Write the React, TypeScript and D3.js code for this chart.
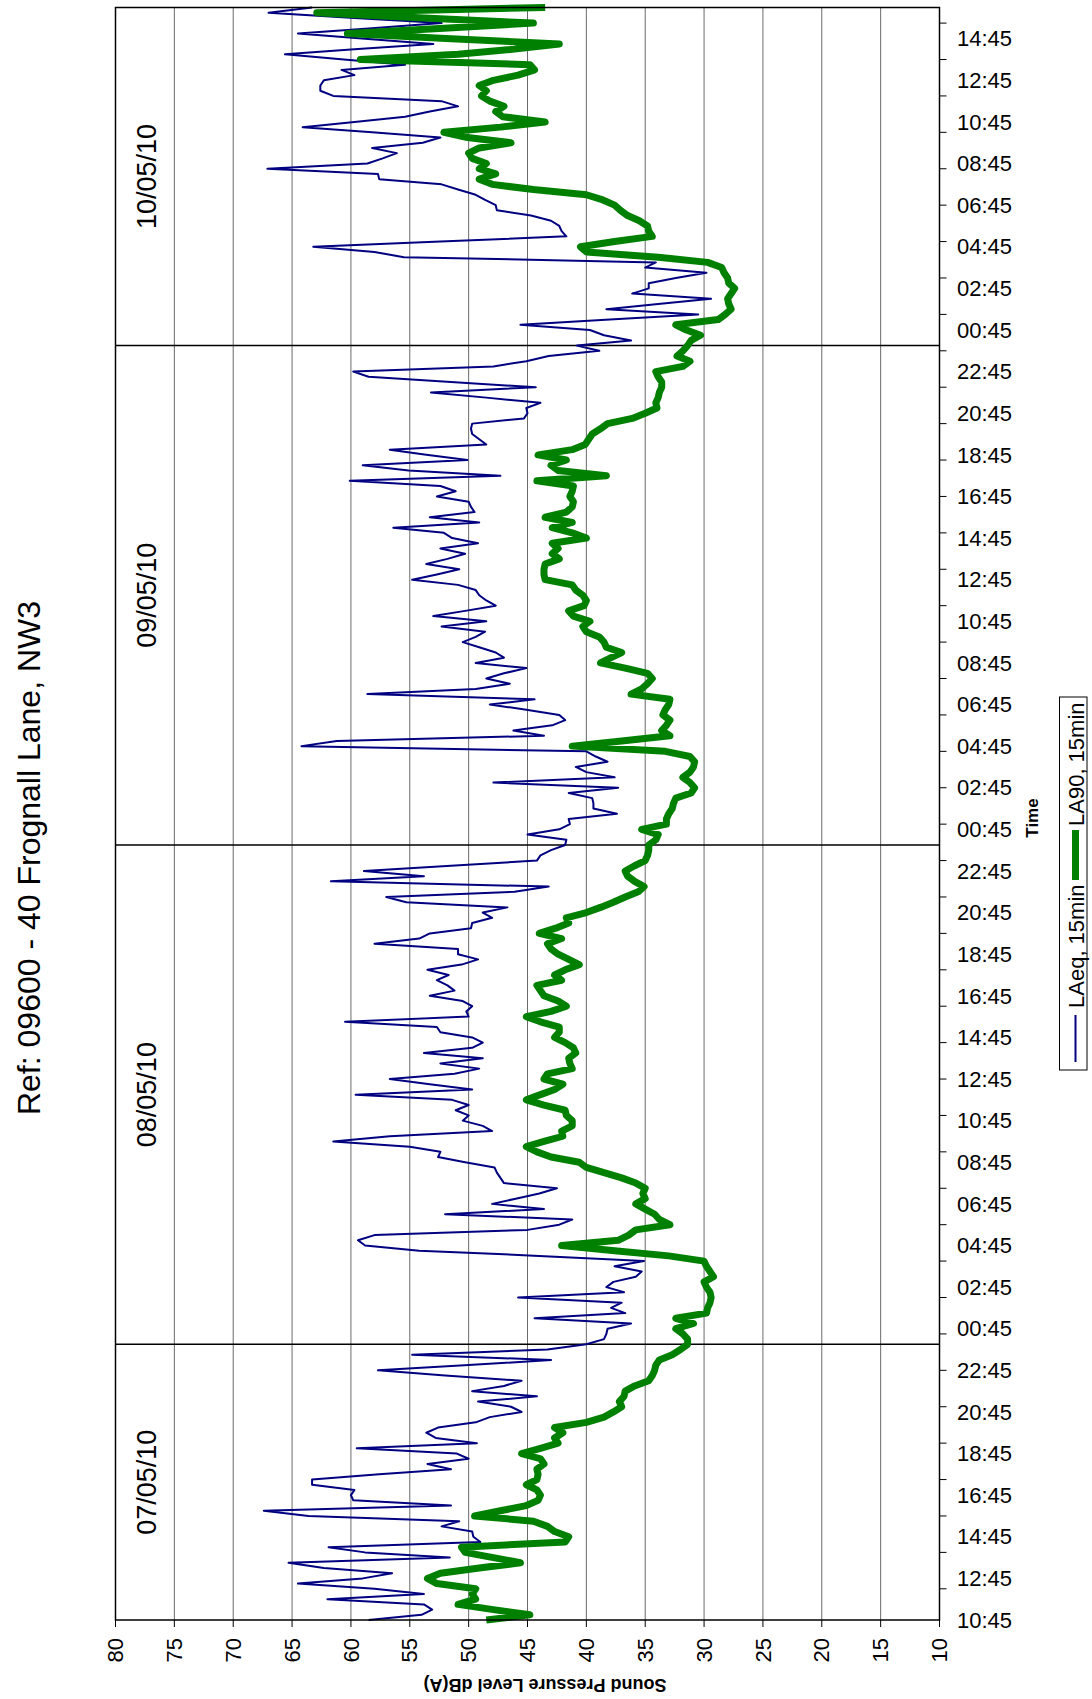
import React from "react";
import * as d3 from "d3";

// 15-minute samples from 07/05/10 10:45 to 10/05/10 16:15
const laeq = [
  58.5, 54.0, 53.1, 53.8, 62.0, 53.8, 58.0, 64.5, 59.0, 56.5, 62.3, 65.3, 51.6, 58.8, 61.9, 49.0,
  49.6, 49.7, 52.3, 50.8, 63.6, 67.4, 51.5, 59.8, 60.0, 59.7, 63.3, 63.3, 57.6, 51.5, 53.5, 50.0,
  51.0, 59.5, 49.3, 52.8, 53.6, 52.6, 49.4, 48.2, 45.5, 46.4, 49.2, 44.2, 49.7, 47.0, 45.5, 52.0,
  57.7, 50.0, 43.0, 54.8, 43.3, 40.0, 38.5, 38.3, 38.2, 36.2, 44.4, 36.7, 37.9, 37.0, 45.8, 36.8,
  38.3, 37.7, 35.8, 35.3, 37.6, 35.1, 44.0, 54.2, 58.8, 59.4, 58.0, 45.0, 42.3, 41.2, 52.0, 43.6,
  48.0, 46.0, 44.0, 42.5, 47.0, 47.3, 47.6, 47.8, 50.3, 52.6, 52.4, 55.0, 61.5, 56.7, 48.0, 48.8,
  50.5, 50.0, 51.1, 50.0, 51.4, 59.6, 49.7, 53.3, 56.7, 51.2, 49.1, 52.4, 48.8, 53.8, 49.7, 48.8,
  49.7, 52.4, 52.7, 60.5, 50.0, 50.2, 49.7, 50.5, 53.3, 51.2, 51.8, 52.7, 51.7, 53.5, 50.6, 49.2,
  50.9, 50.9, 58.0, 54.2, 53.3, 49.8, 49.7, 48.0, 48.8, 46.7, 55.3, 57.0, 46.1, 43.2, 61.7, 53.8,
  58.9, 51.5, 44.2, 43.9, 43.0, 41.8, 41.7, 45.0, 42.3, 41.4, 41.5, 37.4, 39.4, 39.4, 39.5, 41.5,
  37.3, 47.9, 37.6, 40.0, 40.9, 38.2, 39.2, 40.0, 64.2, 61.2, 43.6, 46.2, 42.9, 41.8, 42.3, 45.1,
  48.2, 44.4, 58.6, 49.4, 46.5, 48.5, 47.0, 45.1, 49.4, 47.0, 47.7, 49.1, 50.5, 49.4, 48.6, 52.3,
  48.5, 53.0, 50.3, 47.7, 48.5, 49.1, 49.4, 50.9, 54.8, 52.7, 50.8, 53.6, 51.8, 50.3, 52.4, 49.2,
  51.4, 52.1, 56.4, 49.1, 53.3, 49.5, 49.8, 50.0, 52.7, 51.1, 52.4, 60.1, 47.3, 55.1, 59.0, 50.1,
  53.6, 56.7, 48.5, 49.1, 49.7, 49.8, 49.7, 45.3, 45.0, 45.1, 43.9, 48.5, 53.2, 44.3, 51.5, 58.5,
  59.8, 47.9, 45.1, 43.2, 38.9, 40.8, 36.2, 38.5, 39.7, 45.6, 38.0, 30.5, 38.3, 33.9, 29.4, 36.1,
  34.7, 34.7, 32.4, 29.8, 35.0, 34.1, 55.5, 58.0, 63.2, 52.4, 41.7, 42.1, 42.3, 43.0, 44.7, 47.6,
  47.7, 48.6, 49.4, 50.9, 52.3, 57.6, 57.7, 67.1, 58.6, 57.3, 56.1, 58.2, 53.9, 52.4, 58.2, 64.1,
  59.7, 55.4, 53.3, 50.9, 52.3, 61.5, 62.6, 62.6, 62.3, 59.7, 60.8, 55.4, 60.6, 65.6, 59.4, 53.0,
  58.8, 64.5, 58.2, 52.3, 59.7, 67.0, 63.3,
];

const la90 = [
  48.5, 44.8, 47.9, 50.9, 49.4, 49.7, 49.4, 52.7, 53.5, 52.4, 49.1, 45.6, 47.9, 50.3, 50.6, 41.8,
  41.5, 42.7, 43.3, 44.5, 49.5, 47.3, 45.1, 44.1, 43.9, 44.2, 45.1, 44.2, 44.1, 44.2, 43.6, 43.9,
  45.5, 43.9, 42.4, 42.7, 42.0, 42.7, 40.0, 38.5, 37.7, 37.0, 37.2, 36.8, 36.7, 35.9, 34.7, 34.4,
  34.2, 34.1, 33.8, 32.7, 32.0, 31.4, 31.4, 31.8, 32.4, 30.9, 32.4, 29.8, 29.7, 29.5, 29.4, 29.5,
  29.8, 30.0, 29.2, 29.5, 29.8, 30.0, 33.0, 37.6, 42.1, 37.3, 36.4, 35.8, 32.9, 33.8, 34.2, 35.0,
  35.8, 35.0, 35.2, 35.0, 35.8, 37.0, 38.5, 40.0, 40.6, 43.0, 44.2, 45.1, 43.6, 42.0, 42.1, 41.2,
  41.2, 41.7, 41.8, 43.6, 45.1, 43.9, 42.7, 42.0, 43.6, 43.3, 41.2, 41.4, 41.5, 40.9, 41.1, 41.8,
  42.7, 42.3, 42.3, 43.9, 45.1, 43.0, 41.7, 42.4, 43.6, 43.9, 44.2, 42.1, 42.7, 41.8, 40.6, 41.5,
  42.4, 43.0, 43.3, 42.1, 44.0, 42.6, 41.5, 41.7, 40.0, 38.8, 37.7, 36.7, 35.6, 35.1, 35.9, 36.5,
  36.7, 35.9, 35.0, 34.8, 34.7, 34.7, 34.1, 33.9, 35.3, 33.2, 33.2, 33.0, 32.7, 32.6, 32.4, 31.1,
  30.8, 31.2, 31.8, 31.2, 30.9, 30.8, 31.2, 33.3, 41.2, 37.0, 32.9, 33.6, 33.2, 32.9, 33.5, 33.3,
  33.0, 32.9, 36.2, 35.3, 34.8, 34.4, 34.8, 36.7, 38.8, 37.9, 37.0, 38.3, 38.5, 38.9, 40.0, 40.3,
  39.7, 41.1, 41.5, 40.2, 40.0, 40.3, 40.9, 41.2, 43.5, 43.6, 43.6, 43.5, 42.3, 42.9, 42.4, 42.9,
  40.0, 41.2, 42.9, 41.2, 43.5, 41.7, 41.2, 41.1, 41.4, 41.2, 41.1, 44.2, 38.3, 42.4, 43.0, 41.7,
  44.1, 41.2, 40.1, 39.8, 39.5, 38.8, 38.2, 36.1, 35.0, 34.0, 34.1, 33.9, 33.8, 33.6, 33.6, 33.9,
  34.1, 31.8, 31.2, 32.3, 31.8, 31.4, 31.1, 30.3, 31.5, 32.4, 28.8, 28.2, 27.7, 27.9, 28.0, 27.7,
  27.4, 27.9, 28.0, 28.3, 28.5, 29.7, 33.9, 40.0, 40.5, 37.6, 34.4, 34.7, 34.8, 35.5, 36.5, 37.1,
  37.6, 38.6, 40.0, 44.5, 48.0, 49.1, 47.7, 49.1, 48.5, 49.7, 50.0, 49.1, 46.4, 50.1, 52.1, 47.3,
  43.5, 47.1, 47.7, 47.0, 48.2, 48.9, 48.5, 49.1, 47.9, 45.8, 44.4, 44.8, 59.2, 50.9, 46.1, 42.3,
  51.5, 60.3, 52.1, 44.5, 53.8, 62.9, 43.5,
];

// one label every 8 samples (2 hours)
const timeLabels = [
  "10:45", "12:45", "14:45", "16:45", "18:45", "20:45", "22:45", "00:45", "02:45", "04:45", "06:45", "08:45",
  "10:45", "12:45", "14:45", "16:45", "18:45", "20:45", "22:45", "00:45", "02:45", "04:45", "06:45", "08:45",
  "10:45", "12:45", "14:45", "16:45", "18:45", "20:45", "22:45", "00:45", "02:45", "04:45", "06:45", "08:45",
  "10:45", "12:45", "14:45",
];
const dayLabels = ["07/05/10", "08/05/10", "09/05/10", "10/05/10"];
const midnightIdx = [53, 149, 245];
const yTicks = [80, 75, 70, 65, 60, 55, 50, 45, 40, 35, 30, 25, 20, 15, 10];

const W = 1699; // landscape width (page height)
const H = 1092;
const FONT = "Liberation Sans, Arial, sans-serif";

const App = () => {
  const n = laeq.length;
  const x = d3.scaleLinear().domain([0, n - 1]).range([79, 1691.5]);
  const y = d3.scaleLinear().domain([10, 80]).range([939.5, 115.5]);

  const line = d3
    .line<number>()
    .x((d, i) => x(i))
    .y((d) => y(d));

  const bounds = [0, ...midnightIdx, n - 1];
  const tickIdx = d3.range(6, n, 7);

  return (
    <svg
      width={H}
      height={W}
      style={{ position: "absolute", left: 0, top: 0, background: "#fff" }}
      fontFamily={FONT}
    >
      <g transform={`translate(0,${W}) rotate(-90)`}>
        <rect x={0} y={0} width={W} height={H} fill="#fff" />
        <text x={841} y={40} fontSize={32} textAnchor="middle" fill="#000">
          Ref: 09600 - 40 Frognall Lane, NW3
        </text>

        <rect x={x(0)} y={y(80)} width={x(n - 1) - x(0)} height={y(10) - y(80)} fill="#fff" />
        {yTicks.slice(1, -1).map((v) => (
          <line key={v} x1={x(0)} x2={x(n - 1)} y1={y(v)} y2={y(v)} stroke="#6a6a6a" strokeWidth={1} />
        ))}
        {midnightIdx.map((m) => (
          <line key={m} x1={x(m)} x2={x(m)} y1={y(80)} y2={y(10)} stroke="#000" strokeWidth={1.5} />
        ))}
        {dayLabels.map((d, k) => (
          <text
            key={d}
            x={(x(bounds[k]) + x(bounds[k + 1])) / 2}
            y={156}
            fontSize={27}
            textAnchor="middle"
          >
            {d}
          </text>
        ))}

        <path d={line(laeq) || ""} fill="none" stroke="#000080" strokeWidth={2} strokeLinejoin="round" />
        <path d={line(la90) || ""} fill="none" stroke="#008000" strokeWidth={7} strokeLinejoin="round" />

        <rect
          x={x(0)}
          y={y(80)}
          width={x(n - 1) - x(0)}
          height={y(10) - y(80)}
          fill="none"
          stroke="#000"
          strokeWidth={1.5}
        />

        {/* value axis */}
        {yTicks.map((v) => (
          <g key={v}>
            <line x1={72} x2={x(0)} y1={y(v)} y2={y(v)} stroke="#000" strokeWidth={1} />
            <text x={61} y={y(v)} dy="0.35em" fontSize={22} textAnchor="end">
              {v}
            </text>
          </g>
        ))}
        <text
          transform={`translate(20,545) rotate(-90)`}
          fontSize={18}
          fontWeight="bold"
          textAnchor="middle"
        >
          Sound Pressure Level dB(A)
        </text>

        {/* time axis */}
        {tickIdx.map((i) => (
          <line key={i} x1={x(i)} x2={x(i)} y1={y(10)} y2={y(10) + 7} stroke="#000" strokeWidth={1} />
        ))}
        {timeLabels.map((t, k) => (
          <text
            key={k}
            transform={`translate(${x(k * 8)},957) rotate(90)`}
            dy="0.35em"
            fontSize={22}
          >
            {t}
          </text>
        ))}
        <text x={881} y={1038} fontSize={17} fontWeight="bold" textAnchor="middle">
          Time
        </text>

        {/* legend */}
        <rect x={629} y={1059.5} width={373} height={27.5} fill="#fff" stroke="#000" strokeWidth={1} />
        <line x1={637} x2={684} y1={1075.5} y2={1075.5} stroke="#000080" strokeWidth={2} />
        <text x={691} y={1084} fontSize={22}>
          LAeq, 15min
        </text>
        <line x1={819} x2={869} y1={1075.5} y2={1075.5} stroke="#008000" strokeWidth={7} />
        <text x={873} y={1084} fontSize={22}>
          LA90, 15min
        </text>
      </g>
    </svg>
  );
};

export default App;
